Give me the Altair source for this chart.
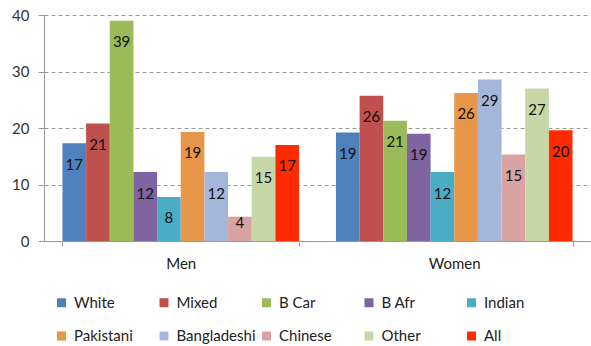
import altair as alt
import pandas as pd

groups = ["Men", "Women"]
ethnicities = ["White", "Mixed", "B Car", "B Afr", "Indian",
               "Pakistani", "Bangladeshi", "Chinese", "Other", "All"]
men = [17.3, 20.8, 39.0, 12.2, 7.8, 19.3, 12.2, 4.3, 14.9, 17.0]
women = [19.2, 25.7, 21.3, 19.0, 12.2, 26.2, 28.6, 15.3, 27.0, 19.6]
colors = ["#4F81BD", "#C0504D", "#9BBB59", "#8064A2", "#4BACC6",
          "#E8964A", "#A4B7DB", "#D9A3A3", "#C6D7A8", "#FF2A00"]

rows = []
for g, vals in zip(groups, [men, women]):
    for e, v in zip(ethnicities, vals):
        rows.append({"group": g, "eth": e, "v": v})
df = pd.DataFrame(rows)

FONT = "Lato"

base = alt.Chart(df).encode(
    x=alt.X("group:N", sort=groups, title=None,
            scale=alt.Scale(paddingInner=0.135, paddingOuter=0.0675),
            axis=alt.Axis(tickBand="extent", labelAngle=0,
                          tickSize=5, labelPadding=10, domainColor="#999999",
                          tickColor="#999999", labelFont=FONT, labelFontSize=15,
                          labelColor="#222222", grid=False)),
    xOffset=alt.XOffset("eth:N", sort=ethnicities,
                        scale=alt.Scale(paddingInner=0, paddingOuter=0)),
)

bars = base.mark_bar().encode(
    y=alt.Y("v:Q", title=None,
            scale=alt.Scale(domain=[0, 40], nice=False),
            axis=alt.Axis(values=[0, 10, 20, 30, 40], tickSize=6, labelPadding=9,
                          domainColor="#999999", tickColor="#999999",
                          gridColor="#9a9a9a", gridDash=[4, 3], gridWidth=1,
                          labelFont=FONT, labelFontSize=15, labelColor="#333333")),
    color=alt.Color("eth:N", sort=ethnicities,
                    scale=alt.Scale(domain=ethnicities, range=colors),
                    legend=alt.Legend(title=None, orient="none", legendX=10, legendY=280,
                                      direction="horizontal", columns=5, gridAlign="all",
                                      columnPadding=3.5, rowPadding=17.5,
                                      symbolType="square", symbolSize=81,
                                      symbolStrokeWidth=0, symbolOffset=0,
                                      labelFont=FONT, labelFontSize=15,
                                      labelColor="#222222", labelOffset=5)),
)

labels = base.transform_calculate(
    ly="max(datum.v - 3.8, 3.2)"
).mark_text(font=FONT, fontSize=15, color="#111111", baseline="middle").encode(
    y=alt.Y("ly:Q"),
    text=alt.Text("v:Q", format=".0f"),
)

chart = alt.layer(bars, labels).properties(
    width=547, height=226,
    autosize=alt.AutoSizeParams(type="none"),
    padding={"left": 44, "top": 15, "right": 0, "bottom": 105},
).configure_view(stroke=None).configure_axisY(gridDash=[4, 3])

chart.save("out.html", embed_options={"renderer": "svg", "actions": False})
